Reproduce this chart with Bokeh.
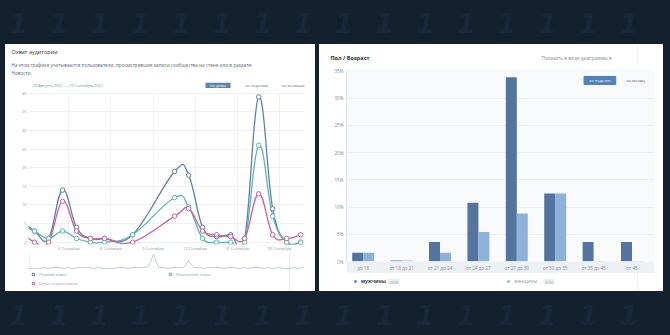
from bokeh.plotting import figure
from bokeh.layouts import column, row
from bokeh.models import (Spacer, Label, FixedTicker, Legend, LegendItem, Range1d,
                          ColumnDataSource, PrintfTickFormatter)
from bokeh.core.properties import value
from bokeh.embed import file_html
from bokeh.resources import INLINE

FONT = "Open Sans"
BG = "#13202e"
NAN = float("nan")

# ---------------- data: "Охват аудитории" ----------------
reach_days = [0, 1, 2, 3, 4, 5, 6, 8, 11, 12, 13, 14, 15, 16, 17, 18, 19, 20]   # day of September (0 = 31 Aug)
full_reach = [6, 3, 1, 14, 4, 1, 1, 2, 19, 18, 4, 1.5, 2, 1, 39, 9, 0, 0]
viral_reach = [4.5, 3, 1, 3, 1, 0, 0, 2, 12, 9.5, 1, 0, 0, 0, 26, 7, 0, 0]
subs_reach = [3, 0, 0, 11, 3, 1, 1, 0, 7, 9, 3, 2, 1.5, 1, 13, 2, 1, 2]
reach_names = ["Полный охват", "Виральный охват", "Охват подписчиков"]
reach_tick_days = [3, 6, 9, 12, 15, 18]
reach_tick_labels = ["3 Сентября", "6 Сентября", "9 Сентября", "12 Сентября", "15 Сентября", "18 Сентября"]
reach_y_ticks = [0, 5, 10, 15, 20, 25, 30, 35, 40]
nav_reach = [0, 0, 0, 1, 0, 1, 1, 0, 1, 0, 1, 1, 1, 0, 1, 0, 0, 0, 1, 1, 0, 1, 1, 1, 2, 14,
             1, 1, 0, 1, 1, 1, 7.5, 1, 1, 0, 1, 1, 1, 0, 1, 1, 0, 1, 0, 1, 1, 0, 1, 0, 1, 0,
             0, 1, 0, 1]
nav_window = [0.2, 52.2]     # navigator window edges (index units)

# ---------------- data: "Пол / Возраст" ----------------
age_groups = ["до 18", "от 18 до 21", "от 21 до 24", "от 24 до 27", "от 27 до 30",
              "от 30 до 35", "от 35 до 45", "от 45"]
male_pct = [1.6, 0.2, 3.6, 10.8, 33.8, 12.5, 3.6, 3.6]
female_pct = [1.6, 0.2, 1.6, 5.4, 8.8, 12.5, 0.1, 0.1]
gender_names = ["мужчины", "женщины"]
gender_totals = ["68%", "32%"]
pct_ticks = [0, 5, 10, 15, 20, 25, 30, 35]

FULL_C, VIRAL_C, SUBS_C = "#5f7fa6", "#5fb3b6", "#c9649a"
MALE_C, FEMALE_C = "#52749f", "#8db1d9"


def spline_source(xs, ys, k=0.2):
    d = {key: [] for key in ("x0", "y0", "x1", "y1", "cx0", "cy0", "cx1", "cy1")}
    n = len(xs)
    for i in range(n - 1):
        ip, inn = max(i - 1, 0), min(i + 2, n - 1)
        d["x0"].append(xs[i]); d["y0"].append(ys[i])
        d["x1"].append(xs[i + 1]); d["y1"].append(ys[i + 1])
        d["cx0"].append(xs[i] + (xs[i + 1] - xs[ip]) * k)
        d["cy0"].append(ys[i] + (ys[i + 1] - ys[ip]) * k)
        d["cx1"].append(xs[i + 1] - (xs[inn] - xs[i]) * k)
        d["cy1"].append(ys[i + 1] - (ys[inn] - ys[i]) * k)
    return ColumnDataSource(d)


def make_fig(**kw):
    f = figure(output_backend="svg", toolbar_location=None, title=None, **kw)
    f.outline_line_color = None
    if hasattr(f, "frame_align"):
        f.frame_align = False
    return f


def bare(fig):
    fig.axis.visible = False
    fig.grid.visible = False
    return fig


def canvas_fig(w, h, bg="white"):
    """figure whose frame is the whole area, in top-down pixel units"""
    f = make_fig(width=w, height=h, x_range=Range1d(0, w), y_range=Range1d(h, 0), min_border=0,
                 background_fill_color=bg, border_fill_color=bg)
    return bare(f)


def txt(fig, x, y, text, size, color, align="left", style="normal"):
    fig.text(x=[x], y=[y], text=[text], text_font=value(FONT), text_font_size=size,
             text_color=color, text_align=align, text_baseline="middle", text_font_style=style)


def button(fig, xl, xr, yt, yb, text, size, color, fill=None):
    if fill:
        fig.quad(left=[xl], right=[xr], top=[yt], bottom=[yb], fill_color=fill, line_color=None)
    txt(fig, (xl + xr) / 2, (yt + yb) / 2, text, size, color, align="center")


def style_axis(ax, size, color, standoff):
    ax.major_tick_line_color = None
    ax.minor_tick_line_color = None
    ax.major_tick_out = 0
    ax.major_tick_in = 0
    ax.minor_tick_out = 0
    ax.major_label_text_font = FONT
    ax.major_label_text_font_size = size
    ax.major_label_text_color = color
    ax.major_label_standoff = standoff


def small_legend(fig, renderer, name, pos, color, size, style="normal", glyph=6):
    lg = Legend(items=[LegendItem(label=name, renderers=[renderer])], location=pos,
                padding=0, margin=0, spacing=0, border_line_color=None, background_fill_alpha=0,
                glyph_width=glyph, glyph_height=glyph, label_height=glyph, label_width=5,
                label_standoff=3, label_text_font=FONT, label_text_font_size=size,
                label_text_color=color, label_text_font_style=style)
    fig.add_layout(lg, "center")


# ================= left card =================
head_L = canvas_fig(310, 44)
txt(head_L, 6, 7.7, "Охват аудитории", "5.5px", "#2c2d2e")
txt(head_L, 6, 20.3,
    "На этом графике учитываются пользователи, просмотревшие записи сообщества на стене или в разделе",
    "4.65px", "#5e6672")
txt(head_L, 6, 28.3, "Новости.", "4.65px", "#5e6672")
txt(head_L, 27, 41, "29 Августа 2021 — 19 Сентября 2021", "4px", "#6f8db0")
button(head_L, 200, 225, 38.3, 44, "по дням", "4px", "white", fill="#5b84b1")
button(head_L, 237, 265, 38.3, 44, "по неделям", "4px", "#55677d")
button(head_L, 273, 302, 38.3, 44, "по месяцам", "4px", "#55677d")

XR = (13.7, 484.8)          # hours since 31 Aug
YR = (-0.61, 40.19)
chart_L = make_fig(width=310, height=165, x_range=Range1d(*XR), y_range=Range1d(*YR),
                   min_border_left=23, min_border_right=12, min_border_top=4, min_border_bottom=8,
                   background_fill_color="white", border_fill_color="white")

hours = [d * 24 for d in reach_days]
series = [(full_reach, FULL_C), (viral_reach, VIRAL_C), (subs_reach, SUBS_C)]
for ys, c in series:
    chart_L.bezier(x0="x0", y0="y0", x1="x1", y1="y1", cx0="cx0", cy0="cy0", cx1="cx1", cy1="cy1",
                   source=spline_source(hours, ys), line_color=c, line_width=1.3)
for ys, c in series:
    chart_L.scatter(hours, ys, marker="circle", size=4.5, fill_color="white", line_color=c, line_width=1)

ticks = [d * 24 + 11 for d in reach_tick_days]
chart_L.xaxis.ticker = FixedTicker(ticks=ticks)
chart_L.xaxis.major_label_overrides = {t: lab for t, lab in zip(ticks, reach_tick_labels)}
chart_L.yaxis.ticker = FixedTicker(ticks=reach_y_ticks)
for ax in (chart_L.xaxis, chart_L.yaxis):
    ax.axis_line_color = None
    style_axis(ax, "4px", "#8a96a3", 2)
chart_L.xaxis.major_label_standoff = 1
chart_L.xgrid.grid_line_color = "#eef0f3"
chart_L.ygrid.grid_line_color = "#eef0f3"

# navigator (top 15 px of the frame) + legend below it
nav_L = make_fig(width=310, height=38, x_range=Range1d(0, len(nav_reach) - 1), y_range=Range1d(-23, 15),
                 min_border_left=23, min_border_right=12, min_border_top=0, min_border_bottom=0,
                 background_fill_color="white", border_fill_color="white")
bare(nav_L)
nav_L.segment(x0=nav_window, y0=[15, 15], x1=nav_window, y1=[-0.5, -23],
              line_color="#e3e7ec", line_width=0.8)
nav_L.line(list(range(len(nav_reach))), nav_reach, line_color="#b3c0cf", line_width=0.8)

legend_pos = [(2, 14), (139, 14), (2, 5)]
legend_txt = ["#8093a8", "#7fa9b0", "#c98aa8"]
for name, (ys, c), pos, tc in zip(reach_names, series, legend_pos, legend_txt):
    r = nav_L.scatter(x=[NAN], y=[NAN], marker="square", size=6, fill_color="#f4f6f8",
                      line_color=c, line_width=1)
    small_legend(nav_L, r, name, pos, tc, "4px")

left_card = column(head_L, chart_L, nav_L, styles={"background-color": "white"})

# ================= right card =================
head_R = canvas_fig(344, 20)
head_R.segment(x0=[318], y0=[0], x1=[318], y1=[20], line_color="#eceef1", line_width=0.8)
txt(head_R, 11, 13.7, "Пол / Возраст", "5.5px", "#2c2d2e", style="bold")
txt(head_R, 222, 13.5, "Показать в виде диаграммы ▾", "4.8px", "#828c99")

BXR = (-0.435, 7.586)
BYR = (0, 35.05)
bar_R = make_fig(width=344, height=209, x_range=Range1d(*BXR), y_range=Range1d(*BYR),
                 min_border_left=27, min_border_right=9, min_border_top=6, min_border_bottom=11,
                 background_fill_color="#f9fafb", border_fill_color="white")

bw = 0.286
idx = list(range(len(age_groups)))
bar_R.vbar(x=[i - bw / 2 for i in idx], top=male_pct, width=bw, fill_color=MALE_C, line_color=None)
bar_R.vbar(x=[i + bw / 2 for i in idx], top=female_pct, width=bw, fill_color=FEMALE_C, line_color=None)

bar_R.xaxis.ticker = FixedTicker(ticks=idx)
bar_R.xaxis.major_label_overrides = {i: g for i, g in zip(idx, age_groups)}
bar_R.yaxis.ticker = FixedTicker(ticks=pct_ticks)
bar_R.yaxis.formatter = PrintfTickFormatter(format="%d%%")
for ax in (bar_R.xaxis, bar_R.yaxis):
    style_axis(ax, "4.6px", "#7d8896", 3)
bar_R.xaxis.axis_line_color = None
bar_R.yaxis.axis_line_color = "#dfe3e8"
if hasattr(bar_R.xaxis[0], "background_fill_color"):
    bar_R.xaxis.background_fill_color = "#eef1f4"
bar_R.xgrid.grid_line_color = None
bar_R.ygrid.grid_line_color = "#eceff2"

bx = lambda px: BXR[0] + (px - 27) * (BXR[1] - BXR[0]) / 308.0
by = lambda py: BYR[1] - (py - 6) * (BYR[1] - BYR[0]) / 192.0
bar_R.add_layout(Label(x=bx(280.4), y=by(16), text="за неделю", text_font=FONT, text_font_size="4.3px",
                       text_color="white", text_align="center", text_baseline="middle",
                       background_fill_color="#5181b8", border_line_color="#5181b8", padding=(5, 1)))
bar_R.add_layout(Label(x=bx(316), y=by(16), text="за месяц", text_font=FONT, text_font_size="4.3px",
                       text_color="#2a5885", text_align="center", text_baseline="middle"))

leg_R = canvas_fig(344, 18)
leg_R.segment(x0=[318], y0=[0], x1=[318], y1=[18], line_color="#eceef1", line_width=0.8)
for name, c, xg, tc, st in zip(gender_names, [MALE_C, FEMALE_C], [33, 186],
                               ["#2f3d4c", "#8a96a5"], ["bold", "normal"]):
    r = leg_R.scatter(x=[NAN], y=[NAN], marker="square", size=6, fill_color=c, line_color=None)
    small_legend(leg_R, r, name, (xg, 7), tc, "4.8px", st)
for tot, xl in zip(gender_totals, [69, 224]):
    button(leg_R, xl, xl + 11, 5.5, 10.5, tot, "4.3px", "#a0acb9", fill="#e7ecf1")

right_card = column(head_R, bar_R, leg_R, styles={"background-color": "white"})


# ================= dark strips with watermark =================
def strip(height, yc):
    s = canvas_fig(670, height, bg=BG)
    n = 16
    s.text(x=[18 + 40.7 * i for i in range(n)], y=[yc] * n, text=["1"] * n,
           text_font=value("DejaVu Sans"), text_font_style="bold italic", text_font_size="26px",
           text_color="#182839", text_align="center", text_baseline="middle")
    return s


top = strip(44, 22)
bottom = strip(44, 23)

cards = row(Spacer(width=5, height=247), left_card, Spacer(width=4, height=247), right_card,
            Spacer(width=7, height=247), styles={"background-color": BG})
page = column(top, cards, bottom, styles={"background-color": BG})

open("out.html", "w").write(file_html(page, INLINE))
